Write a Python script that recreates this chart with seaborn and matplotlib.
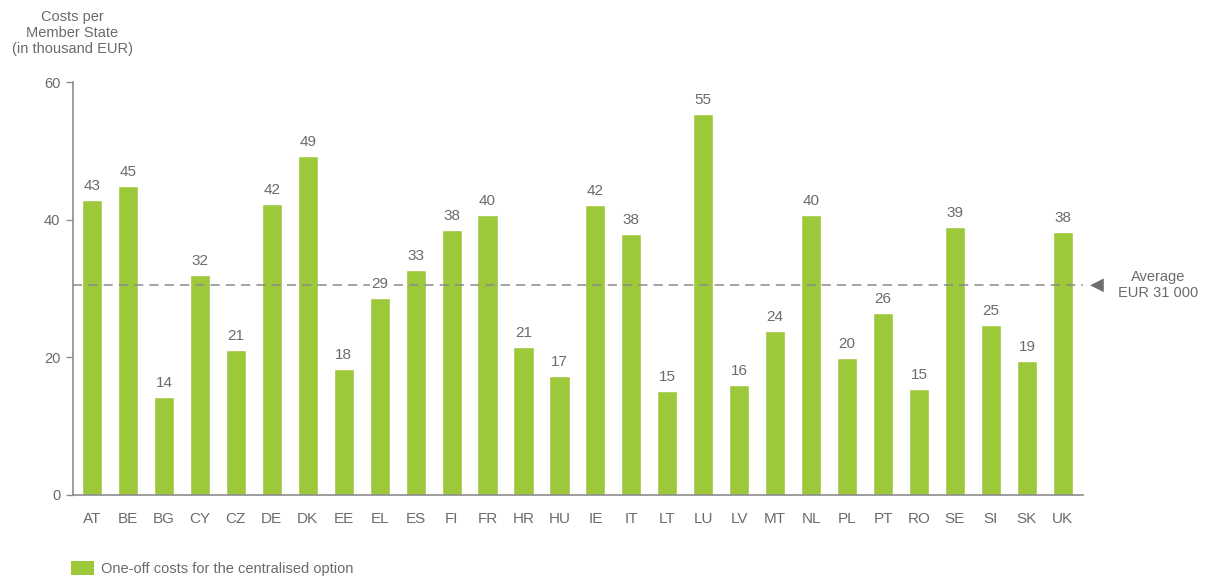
import pandas as pd
import seaborn as sns
import matplotlib.pyplot as plt
from matplotlib.patches import Patch

# Data
countries = ['AT', 'BE', 'BG', 'CY', 'CZ', 'DE', 'DK', 'EE', 'EL', 'ES', 'FI', 'FR', 'HR', 'HU',
             'IE', 'IT', 'LT', 'LU', 'LV', 'MT', 'NL', 'PL', 'PT', 'RO', 'SE', 'SI', 'SK', 'UK']
costs = [42.9, 44.9, 14.2, 32.0, 21.1, 42.3, 49.3, 18.3, 28.6, 32.7, 38.5, 40.7, 21.5, 17.3,
         42.2, 37.9, 15.1, 55.4, 16.0, 23.8, 40.7, 19.9, 26.5, 15.4, 39.0, 24.7, 19.5, 38.2]
labels = [43, 45, 14, 32, 21, 42, 49, 18, 29, 33, 38, 40, 21, 17,
          42, 38, 15, 55, 16, 24, 40, 20, 26, 15, 39, 25, 19, 38]
average = 30.5

df = pd.DataFrame({'country': countries, 'cost': costs})

sns.set_style('white')
plt.rcParams['font.family'] = ['Liberation Sans', 'DejaVu Sans']

green = '#9cc83a'
grey = '#6b6b6b'

fig = plt.figure(figsize=(12.06, 5.82), dpi=100)
ax = fig.add_axes([0.0605, 0.1495, 0.8375, 0.7095])

sns.barplot(data=df, x='country', y='cost', color=green, width=0.56,
            saturation=1, ax=ax)

# average line sits under the value labels
ax.axhline(average, color='#8a8a8a', linestyle=(0, (6, 4)), linewidth=1.1, zorder=2)

texts = ax.bar_label(ax.containers[0], labels=[str(v) for v in labels], padding=5,
                     fontsize=11, color=grey)
for t in texts:
    t.set_zorder(5)
    t.set_bbox(dict(facecolor='white', edgecolor='none', pad=1))

ax.set_ylim(0, 60)
ax.set_xlim(-0.53, 27.56)
ax.set_yticks([0, 20, 40, 60])
ax.set_xlabel('')
ax.set_ylabel('')

for side in ['top', 'right']:
    ax.spines[side].set_visible(False)
for side in ['left', 'bottom']:
    ax.spines[side].set_color('#8c8c8c')
    ax.spines[side].set_linewidth(1.2)

ax.tick_params(axis='y', left=True, length=5, width=1, color='#8c8c8c',
               labelsize=10.5, labelcolor=grey, pad=4)
ax.tick_params(axis='x', bottom=False, labelsize=11, labelcolor=grey, pad=9)

# Y axis title above the axis
fig.text(0.060, 0.943, 'Costs per\nMember State\n(in thousand EUR)', ha='center', va='center',
         fontsize=10.5, color=grey, linespacing=1.2)

# Average marker on the right
y_avg = 0.1495 + 0.7095 * average / 60
fig.text(0.9095, y_avg, '\u25C0', ha='center', va='center',
         fontsize=13, color='#6f6f6f', family=['DejaVu Sans'])
fig.text(0.9605, y_avg, 'Average\nEUR 31 000', ha='center', va='center',
         fontsize=10.5, color=grey, linespacing=1.2)

# Legend
handle = Patch(facecolor=green, edgecolor='none', label='One-off costs for the centralised option')
fig.legend(handles=[handle], loc='lower left', bbox_to_anchor=(0.048, -0.012), frameon=False,
           fontsize=10.5, labelcolor=grey, handlelength=1.55, handleheight=1.05, handletextpad=0.5)

plt.savefig('out.png', dpi=100)
